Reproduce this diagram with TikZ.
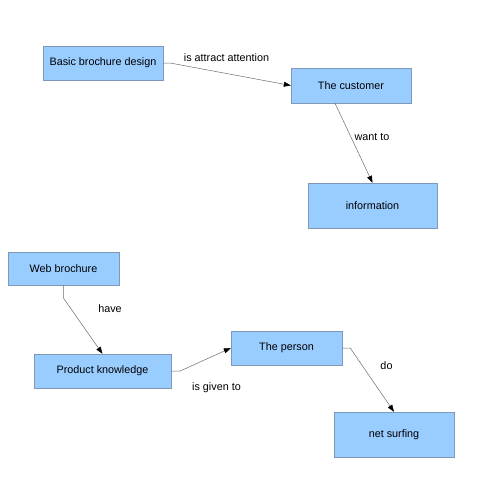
\documentclass[tikz,border=0pt]{standalone}
\usepackage{fontspec}
\setmainfont{Liberation Sans}
\usetikzlibrary{arrows.meta}
\definecolor{boxfill}{HTML}{99CCFF}
\definecolor{boxline}{HTML}{7F98B8}

\begin{document}
\begin{tikzpicture}[x=1pt,y=-1pt,>={Triangle[length=7pt,width=5pt,black]},
                    font=\fontsize{10.8}{12}\selectfont,
                    concept/.style={draw=boxline,fill=boxfill,inner sep=0pt},
                    link/.style={->,draw=gray!85!black,line width=0.5pt},
                    lbl/.style={inner sep=1pt}]
                \useasboundingbox (0,0) rectangle (480,480);
                \node[concept, minimum width=120pt, minimum height=34pt] (bbd) at (103,63) {Basic brochure design};
                \node[concept, minimum width=120pt, minimum height=35pt] (cust) at (351,85.5) {The customer};
                \node[concept, minimum width=129pt, minimum height=45pt] (info) at (372.5,205.5) {information};
                \node[concept, minimum width=111pt, minimum height=33pt] (web) at (63.5,268.5) {Web brochure};
                \node[concept, minimum width=137pt, minimum height=34pt] (prod) at (102.5,371) {Product knowledge};
                \node[concept, minimum width=111pt, minimum height=34pt] (person) at (286.5,348) {The person};
                \node[concept, minimum width=120pt, minimum height=45pt] (net) at (394,434.5) {net surfing};

                \node[lbl] (l1) at (226.5,58) {is attract attention};
                \node[lbl] (l2) at (372,137) {want to};
                \node[lbl] (l3) at (110,309) {have};
                \node[lbl] (l4) at (216.5,388) {is given to};
                \node[lbl] (l5) at (386.5,366) {do};

                \draw[link] (bbd.east) -- ++(7,0) -- (cust.west);
                \draw[link] ([xshift=-16pt]cust.south) -- (info.north);
                \draw[link] (web.south) -- ++(0,13) -- (prod.north);
                \draw[link] (prod.east) -- ++(9,0) -- (person.west);
                \draw[link] (person.east) -- ++(8,0) -- (net.north);
            \end{tikzpicture}
\end{document}
